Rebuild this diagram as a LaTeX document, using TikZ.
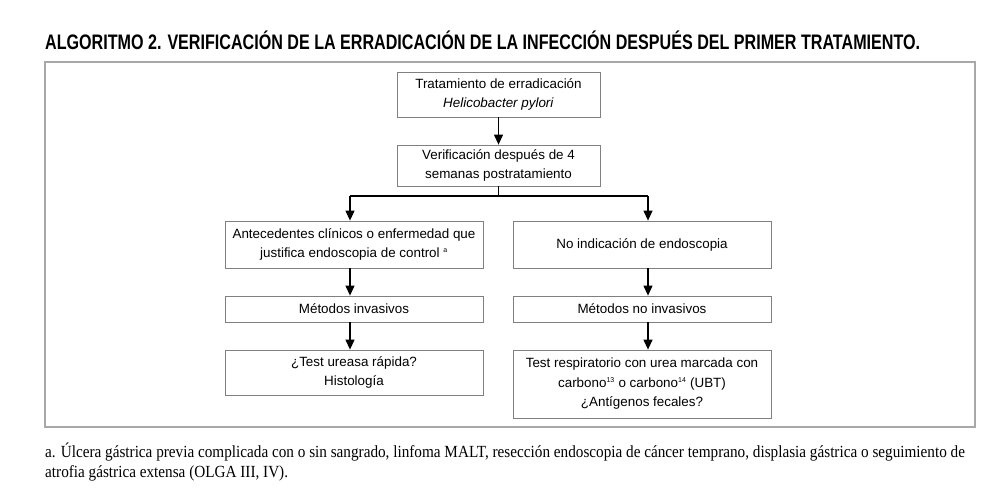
\documentclass[tikz,border=0pt]{standalone}
\usepackage{fontspec}
\setmainfont{Liberation Serif}
\setsansfont{Liberation Sans}
\newfontfamily\titlefont[FakeStretch=0.767]{Liberation Sans Bold}
\newfontfamily\notefont[FakeStretch=0.895]{Liberation Serif}
\usetikzlibrary{arrows.meta}
\definecolor{boxgray}{HTML}{808080}
\definecolor{framegray}{HTML}{A8A8A8}
\begin{document}
\begin{tikzpicture}[x=1pt,y=-1pt,
  fbox/.style={draw=boxgray,line width=0.8pt,align=center,inner sep=2pt,
    font=\sffamily\fontsize{13.4}{19.5}\selectfont,text=black},
  arr/.style={line width=1.2pt,-{Triangle[width=9pt,length=10pt]}},
  lin/.style={line width=1.2pt}]
\useasboundingbox (0,0) rectangle (990,487);
\node[anchor=base west,inner sep=0,font=\titlefont\fontsize{21}{24}\selectfont] (title) at (45,49)
  {ALGORITMO 2. VERIFICACIÓN DE LA ERRADICACIÓN DE LA INFECCIÓN DESPUÉS DEL PRIMER TRATAMIENTO.};
\draw[framegray,line width=1.2pt] (45,62) rectangle (975,427);
\node[fbox,minimum width=203pt,minimum height=45pt] (b1) at (498.5,94.5)
  {Tratamiento de erradicación\\\textit{Helicobacter pylori}};
\node[fbox,minimum width=203pt,minimum height=41pt] (b2) at (498.5,165.5)
  {Verificación después de 4\\semanas postratamiento};
\node[fbox,minimum width=258pt,minimum height=47pt] (l1) at (354,244.5)
  {Antecedentes clínicos o enfermedad que\\justifica endoscopia de control \textsuperscript{\fontsize{7}{7}\selectfont a}};
\node[fbox,minimum width=258pt,minimum height=47pt] (r1) at (642,244.5)
  {No indicación de endoscopia};
\node[fbox,minimum width=258pt,minimum height=26pt] (l2) at (354,309)
  {Métodos invasivos};
\node[fbox,minimum width=258pt,minimum height=26pt] (r2) at (642,309)
  {Métodos no invasivos};
\node[fbox,minimum width=258pt,minimum height=45pt] (l3) at (354,372.5)
  {¿Test ureasa rápida?\\Histología};
\node[fbox,minimum width=258pt,minimum height=68pt] (r3) at (642,384)
  {Test respiratorio con urea marcada con\\carbono\textsuperscript{\fontsize{7}{7}\selectfont 13} o carbono\textsuperscript{\fontsize{7}{7}\selectfont 14} (UBT)\\¿Antígenos fecales?};
\coordinate (j) at (498.5,196);
\coordinate (jl) at (350,196);
\coordinate (jr) at (648,196);
\draw[arr] (b1.south) -- (b2.north);
\draw[lin] (b2.south) -- (j);
\draw[lin] (jl) -- (jr);
\draw[arr] (jl) -- (jl |- l1.north);
\draw[arr] (jr) -- (jr |- r1.north);
\draw[arr] (jl |- l1.south) -- (jl |- l2.north);
\draw[arr] (jr |- r1.south) -- (jr |- r2.north);
\draw[arr] (jl |- l2.south) -- (jl |- l3.north);
\draw[arr] (jr |- r2.south) -- (jr |- r3.north);
\node[anchor=base west,inner sep=0,align=left,
  font=\notefont\fontsize{17}{20}\selectfont] (note) at (45,477)
  {a. Úlcera gástrica previa complicada con o sin sangrado, linfoma MALT, resección endoscopia de cáncer temprano, displasia gástrica o seguimiento de\\atrofia gástrica extensa (OLGA III, IV).};
\end{tikzpicture}
\end{document}
